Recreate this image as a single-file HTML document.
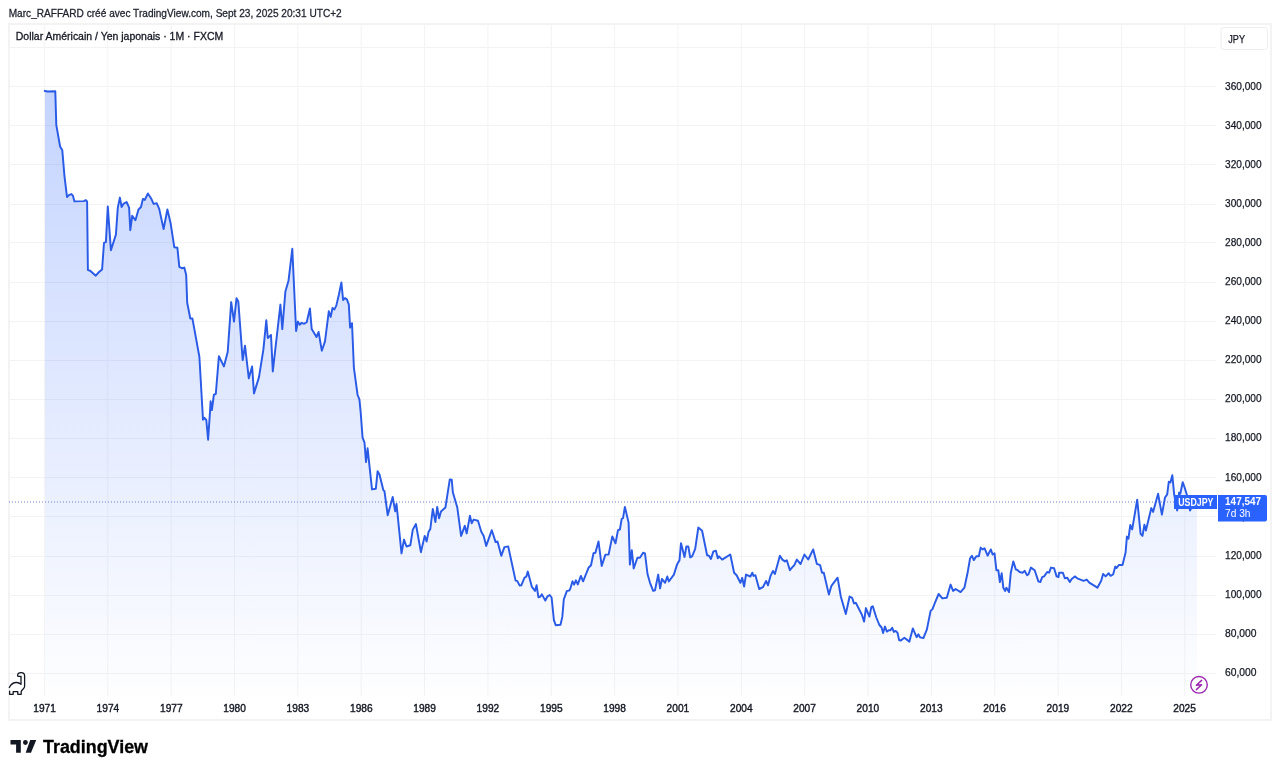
<!DOCTYPE html>
<html><head><meta charset="utf-8"><style>
html,body{margin:0;padding:0;background:#fff;width:1280px;height:773px;overflow:hidden}
svg{display:block;will-change:transform}
</style></head><body>
<svg width="1280" height="773" viewBox="0 0 1280 773">
<defs>
<linearGradient id="ag" gradientUnits="userSpaceOnUse" x1="0" y1="90" x2="0" y2="696">
<stop offset="0" stop-color="#2962ff" stop-opacity="0.275"/>
<stop offset="1" stop-color="#2962ff" stop-opacity="0.005"/>
</linearGradient>
</defs>
<rect width="1280" height="773" fill="#fff"/>
<text x="8.7" y="16.7" font-family="Liberation Sans, sans-serif" font-size="11.4" fill="#1e222d" stroke="#1e222d" stroke-width="0.3" textLength="333" lengthAdjust="spacingAndGlyphs">Marc_RAFFARD créé avec TradingView.com, Sept 23, 2025 20:31 UTC+2</text>
<rect x="9" y="24" width="1262" height="696" fill="#fff" stroke="#f3f3f3" stroke-width="2"/>
<g stroke="#f3f3f3" stroke-width="1"><line x1="9" y1="47.5" x2="1216" y2="47.5"/><line x1="9" y1="86.5" x2="1216" y2="86.5"/><line x1="9" y1="125.5" x2="1216" y2="125.5"/><line x1="9" y1="164.5" x2="1216" y2="164.5"/><line x1="9" y1="204.5" x2="1216" y2="204.5"/><line x1="9" y1="242.5" x2="1216" y2="242.5"/><line x1="9" y1="282.5" x2="1216" y2="282.5"/><line x1="9" y1="321.5" x2="1216" y2="321.5"/><line x1="9" y1="360.5" x2="1216" y2="360.5"/><line x1="9" y1="399.5" x2="1216" y2="399.5"/><line x1="9" y1="438.5" x2="1216" y2="438.5"/><line x1="9" y1="477.5" x2="1216" y2="477.5"/><line x1="9" y1="516.5" x2="1216" y2="516.5"/><line x1="9" y1="556.5" x2="1216" y2="556.5"/><line x1="9" y1="595.5" x2="1216" y2="595.5"/><line x1="9" y1="634.5" x2="1216" y2="634.5"/><line x1="9" y1="673.5" x2="1216" y2="673.5"/><line x1="44.4" y1="24" x2="44.4" y2="696"/><line x1="107.76" y1="24" x2="107.76" y2="696"/><line x1="171.12" y1="24" x2="171.12" y2="696"/><line x1="234.48" y1="24" x2="234.48" y2="696"/><line x1="297.84" y1="24" x2="297.84" y2="696"/><line x1="361.2" y1="24" x2="361.2" y2="696"/><line x1="424.56" y1="24" x2="424.56" y2="696"/><line x1="487.92" y1="24" x2="487.92" y2="696"/><line x1="551.28" y1="24" x2="551.28" y2="696"/><line x1="614.64" y1="24" x2="614.64" y2="696"/><line x1="678.0" y1="24" x2="678.0" y2="696"/><line x1="741.36" y1="24" x2="741.36" y2="696"/><line x1="804.72" y1="24" x2="804.72" y2="696"/><line x1="868.08" y1="24" x2="868.08" y2="696"/><line x1="931.44" y1="24" x2="931.44" y2="696"/><line x1="994.8" y1="24" x2="994.8" y2="696"/><line x1="1058.16" y1="24" x2="1058.16" y2="696"/><line x1="1121.52" y1="24" x2="1121.52" y2="696"/><line x1="1184.88" y1="24" x2="1184.88" y2="696"/></g>
<path d="M45 90.8 L47.5 91.5 L55.3 91.3 L56.3 125.2 L60.1 146.5 L62.3 150.3 L64.5 176.3 L67 197 L68.9 195.1 L71.4 194.1 L72.9 195.7 L74.5 201.4 L83.9 201.1 L85.8 200.1 L87.1 201.4 L87.9 270.1 L90.2 270.7 L95.8 275.7 L99 272 L102.1 269.4 L104 242.8 L105.9 242.1 L107.8 206.4 L110.9 250.3 L115.9 234.6 L117.8 207.6 L119.9 197.6 L121.6 207 L123.4 203.9 L126.6 202 L129.1 207.6 L130.3 230.2 L132.2 215.8 L135.4 220.2 L138.5 209.5 L141 207 L142.9 198.9 L144.8 199.9 L147.9 193.5 L151 198.2 L153.6 203.9 L156.7 203.2 L159.2 208.9 L163.6 229 L167.4 209.5 L170.5 222.7 L174.3 247.2 L177.4 247.8 L179.3 266.9 L181.8 268.2 L184.3 267.6 L186.2 275.1 L187.2 302.7 L190.3 318.5 L192.4 318.4 L199.4 357 L203 419.8 L204.4 417.8 L206.3 420 L208.1 439.7 L210 411.9 L210.6 401.3 L211.9 410 L213.9 394.6 L215.8 394 L218.9 356.3 L223.9 366.4 L227.7 352 L231.2 302.1 L234 321.6 L236.5 298.3 L238.3 301.5 L242.7 360.1 L245 345.7 L248.8 378.3 L252.1 366.4 L254 393.4 L259 377.1 L263.4 349.4 L266.3 320.3 L267.8 338 L271 335 L272.8 371.4 L280.4 304.6 L282.3 329.1 L285.4 291.4 L288.5 280.8 L292.3 248.8 L296.1 331 L297.9 321.6 L299.8 324.7 L301.7 322.8 L304.2 323.8 L306.7 322.2 L309.9 308.4 L311.7 329.1 L316.5 337 L318.6 332 L321.8 350.7 L325 341.4 L328.8 311.3 L330.7 316.9 L332.5 308 L334.4 309.4 L336.3 305.6 L338.8 295 L341.4 282.5 L343.1 300 L345 298.1 L346.9 299.4 L348.8 304.4 L350.1 327.6 L352 323.2 L353.9 367.8 L357.6 395 L359.4 399.4 L360.7 412.6 L362.6 437.7 L364.5 442.7 L366 462.1 L367.6 448.3 L372 489.4 L375.8 488.8 L377.6 471.3 L379.5 474.4 L383.3 490.1 L384.5 491.3 L387.7 515.2 L392.7 497 L395.2 511.4 L396.5 503.9 L401.5 553.4 L404 539.6 L406.5 546.5 L410.3 545.3 L412.8 529.6 L415.9 524 L420.9 552.2 L424.7 535.9 L426.6 541.5 L428.5 532.1 L430.3 529 L432.8 508.9 L435.4 522.1 L437.2 507 L439.1 518.3 L441 511.4 L445.4 507.6 L449.8 479.4 L451.7 479.7 L452.9 492.6 L457.3 507.6 L461.1 535.9 L464.8 525.8 L466.7 533.4 L469.9 515.8 L471.7 523.3 L473.6 519.6 L478 520.8 L481.2 531.5 L483.7 535.9 L486.2 545.9 L491.8 530.2 L495.6 542.1 L497.5 541.5 L501.3 555.8 L504.4 547.1 L508.2 546.4 L512 564 L515.6 580.6 L517.2 580.9 L519.7 585.6 L521.3 585.3 L524.4 577.8 L526.3 576.6 L527.8 571.6 L531.9 586.9 L535 590.9 L536.6 585.3 L538.4 597.2 L540 596.9 L541.9 594.4 L545.3 600.6 L547.5 596.3 L549.7 595 L551.6 597.5 L553.9 620.2 L555.8 625.3 L560.5 624.8 L562.3 616.9 L563.8 599.4 L566.9 590.9 L569.1 590.6 L570.3 588.8 L572.5 581.3 L574.1 584.7 L575.9 580.3 L577.8 584.4 L580.9 575.9 L583.1 581.3 L588.5 567.8 L591 565.2 L593.5 553.3 L595.4 552.7 L598.5 541.4 L601.7 565.9 L605.4 554.6 L608.6 554.6 L612.3 536.4 L615.5 543.3 L618 530.1 L619.9 529.5 L621.7 518.8 L623 518.2 L624.9 506.9 L628.6 522.6 L629.9 564.6 L631.8 550.2 L633.7 568.4 L637.4 557.7 L639.9 557.7 L643.1 552.7 L645 553.5 L647.5 574 L650 582.8 L653.2 590.9 L655 590.3 L658.2 574.6 L660.1 588.4 L661.9 579 L665.1 582.8 L667.3 576.5 L668.8 581.5 L673.9 574.6 L677 564.6 L679.5 560.2 L681 543.2 L684.5 557.1 L686.4 546.4 L688.3 546.4 L690.2 557.4 L692.1 556.4 L695.2 548.9 L698.3 527.6 L702.1 530.7 L707.1 555.2 L709 555.8 L710.9 558.9 L713.4 551.4 L715.9 550.8 L717.8 558.3 L719 556.4 L722.2 559.6 L725.3 557.7 L730.3 554.5 L734.1 572.7 L736.6 575.2 L740.4 582.8 L742.2 577.8 L744.1 586.5 L746 574.6 L750.4 576.5 L752.3 572.7 L753.5 575.9 L755.4 575.2 L759.2 589 L762.9 587.2 L766.1 580.9 L768 585.3 L770.5 575.9 L773 570.9 L774.9 574 L779.9 555.8 L782.4 559.6 L784.9 561.4 L786.8 560.2 L789.9 570.2 L792.4 567.1 L794.3 565.2 L796.8 559.6 L800.6 564 L804.4 554.5 L808.2 559.5 L813.2 549.4 L816.9 563.9 L820.1 565.1 L822 572.7 L823.8 572.7 L828.9 594.6 L831.4 585.8 L837.6 577.7 L840.8 596.5 L845.8 614.1 L849.6 596.5 L852.1 597.8 L854 603.4 L855.8 602.8 L861.9 614.7 L864.1 621.6 L865.9 608.1 L869.4 616.6 L871.3 607.2 L872.8 606.3 L876.3 617.5 L879.4 625 L881.6 627.5 L883.1 633.1 L885 626.6 L886.9 631.6 L888.8 630.3 L890.3 630.3 L892.2 627.8 L893.8 631.9 L895.6 630.9 L897.5 632.8 L899.1 640 L900.6 640.6 L904.4 637.8 L909.4 641.6 L912.8 628.4 L916.6 637.2 L918.4 634.4 L920 637.2 L923.4 638.1 L926.9 629.4 L930.6 610.9 L932.5 609.1 L934.9 602.8 L938.6 594 L942.4 598.4 L946.8 597.8 L950.6 584.6 L953.1 590.9 L955.6 589 L960.6 592.1 L964.4 587.7 L967.5 573.3 L970.1 558.2 L971.9 555.7 L973.8 560.1 L976.3 556.3 L978.8 556.3 L980.7 547.6 L982.6 549.4 L984.5 548.2 L987.6 555.7 L990.8 549.4 L992.6 554.5 L994.5 553.2 L996.4 570.2 L998.3 570.2 L999.9 582.1 L1001.7 573.3 L1003.3 587.7 L1005.2 590.9 L1006.4 587.7 L1009 592.1 L1010.8 572.7 L1013.3 561.4 L1015.9 569.5 L1017.7 570.2 L1019.6 572 L1022.8 572.7 L1024.6 570.8 L1027.1 575.2 L1028.4 574.5 L1030.9 567.6 L1034.7 570.2 L1038.4 581.4 L1040.3 582.1 L1042.2 577.1 L1044.1 576.4 L1047.2 572 L1049.1 572.7 L1051 567.6 L1054.1 568.3 L1056.6 576.4 L1058.5 577.1 L1059.1 572.7 L1062.9 572.7 L1064.8 578.3 L1067.3 577.7 L1069.8 582.1 L1071.7 578.9 L1074.8 576.4 L1077.3 578.3 L1083.6 580.8 L1086.7 579.6 L1089.3 582.7 L1097.4 587.7 L1101.2 580.8 L1103.1 573.9 L1105.6 576.4 L1108.7 573.3 L1110.6 575.8 L1113.1 574.5 L1115.3 566.6 L1116.6 568 L1118.8 565 L1122.5 565 L1125.6 552.5 L1126.9 536.6 L1128.4 538.8 L1130.3 525 L1132.2 529.4 L1137.2 499.7 L1140.6 533.8 L1142.5 535.9 L1144.4 524.7 L1145.9 530.6 L1151.3 508.1 L1153.1 511.9 L1158.1 493.8 L1161.9 514.7 L1165 497.5 L1167.2 494.4 L1168.8 481.7 L1170.4 482.5 L1172.3 475.2 L1174.2 494.5 L1177.2 510.5 L1179.1 492.6 L1180.3 493.8 L1182.7 482.2 L1184.6 487.5 L1186.8 494.5 L1190 510.5 L1193 505 L1197 502.4 L1197 696 L45 696 Z" fill="url(#ag)"/>
<line x1="9" y1="502" x2="1216" y2="502" stroke="#4d62b8" stroke-width="1" stroke-dasharray="1 2" opacity="0.8"/>
<path d="M44 90.8 L47.5 91.5 L55.3 91.3 L56.3 125.2 L60.1 146.5 L62.3 150.3 L64.5 176.3 L67 197 L68.9 195.1 L71.4 194.1 L72.9 195.7 L74.5 201.4 L83.9 201.1 L85.8 200.1 L87.1 201.4 L87.9 270.1 L90.2 270.7 L95.8 275.7 L99 272 L102.1 269.4 L104 242.8 L105.9 242.1 L107.8 206.4 L110.9 250.3 L115.9 234.6 L117.8 207.6 L119.9 197.6 L121.6 207 L123.4 203.9 L126.6 202 L129.1 207.6 L130.3 230.2 L132.2 215.8 L135.4 220.2 L138.5 209.5 L141 207 L142.9 198.9 L144.8 199.9 L147.9 193.5 L151 198.2 L153.6 203.9 L156.7 203.2 L159.2 208.9 L163.6 229 L167.4 209.5 L170.5 222.7 L174.3 247.2 L177.4 247.8 L179.3 266.9 L181.8 268.2 L184.3 267.6 L186.2 275.1 L187.2 302.7 L190.3 318.5 L192.4 318.4 L199.4 357 L203 419.8 L204.4 417.8 L206.3 420 L208.1 439.7 L210 411.9 L210.6 401.3 L211.9 410 L213.9 394.6 L215.8 394 L218.9 356.3 L223.9 366.4 L227.7 352 L231.2 302.1 L234 321.6 L236.5 298.3 L238.3 301.5 L242.7 360.1 L245 345.7 L248.8 378.3 L252.1 366.4 L254 393.4 L259 377.1 L263.4 349.4 L266.3 320.3 L267.8 338 L271 335 L272.8 371.4 L280.4 304.6 L282.3 329.1 L285.4 291.4 L288.5 280.8 L292.3 248.8 L296.1 331 L297.9 321.6 L299.8 324.7 L301.7 322.8 L304.2 323.8 L306.7 322.2 L309.9 308.4 L311.7 329.1 L316.5 337 L318.6 332 L321.8 350.7 L325 341.4 L328.8 311.3 L330.7 316.9 L332.5 308 L334.4 309.4 L336.3 305.6 L338.8 295 L341.4 282.5 L343.1 300 L345 298.1 L346.9 299.4 L348.8 304.4 L350.1 327.6 L352 323.2 L353.9 367.8 L357.6 395 L359.4 399.4 L360.7 412.6 L362.6 437.7 L364.5 442.7 L366 462.1 L367.6 448.3 L372 489.4 L375.8 488.8 L377.6 471.3 L379.5 474.4 L383.3 490.1 L384.5 491.3 L387.7 515.2 L392.7 497 L395.2 511.4 L396.5 503.9 L401.5 553.4 L404 539.6 L406.5 546.5 L410.3 545.3 L412.8 529.6 L415.9 524 L420.9 552.2 L424.7 535.9 L426.6 541.5 L428.5 532.1 L430.3 529 L432.8 508.9 L435.4 522.1 L437.2 507 L439.1 518.3 L441 511.4 L445.4 507.6 L449.8 479.4 L451.7 479.7 L452.9 492.6 L457.3 507.6 L461.1 535.9 L464.8 525.8 L466.7 533.4 L469.9 515.8 L471.7 523.3 L473.6 519.6 L478 520.8 L481.2 531.5 L483.7 535.9 L486.2 545.9 L491.8 530.2 L495.6 542.1 L497.5 541.5 L501.3 555.8 L504.4 547.1 L508.2 546.4 L512 564 L515.6 580.6 L517.2 580.9 L519.7 585.6 L521.3 585.3 L524.4 577.8 L526.3 576.6 L527.8 571.6 L531.9 586.9 L535 590.9 L536.6 585.3 L538.4 597.2 L540 596.9 L541.9 594.4 L545.3 600.6 L547.5 596.3 L549.7 595 L551.6 597.5 L553.9 620.2 L555.8 625.3 L560.5 624.8 L562.3 616.9 L563.8 599.4 L566.9 590.9 L569.1 590.6 L570.3 588.8 L572.5 581.3 L574.1 584.7 L575.9 580.3 L577.8 584.4 L580.9 575.9 L583.1 581.3 L588.5 567.8 L591 565.2 L593.5 553.3 L595.4 552.7 L598.5 541.4 L601.7 565.9 L605.4 554.6 L608.6 554.6 L612.3 536.4 L615.5 543.3 L618 530.1 L619.9 529.5 L621.7 518.8 L623 518.2 L624.9 506.9 L628.6 522.6 L629.9 564.6 L631.8 550.2 L633.7 568.4 L637.4 557.7 L639.9 557.7 L643.1 552.7 L645 553.5 L647.5 574 L650 582.8 L653.2 590.9 L655 590.3 L658.2 574.6 L660.1 588.4 L661.9 579 L665.1 582.8 L667.3 576.5 L668.8 581.5 L673.9 574.6 L677 564.6 L679.5 560.2 L681 543.2 L684.5 557.1 L686.4 546.4 L688.3 546.4 L690.2 557.4 L692.1 556.4 L695.2 548.9 L698.3 527.6 L702.1 530.7 L707.1 555.2 L709 555.8 L710.9 558.9 L713.4 551.4 L715.9 550.8 L717.8 558.3 L719 556.4 L722.2 559.6 L725.3 557.7 L730.3 554.5 L734.1 572.7 L736.6 575.2 L740.4 582.8 L742.2 577.8 L744.1 586.5 L746 574.6 L750.4 576.5 L752.3 572.7 L753.5 575.9 L755.4 575.2 L759.2 589 L762.9 587.2 L766.1 580.9 L768 585.3 L770.5 575.9 L773 570.9 L774.9 574 L779.9 555.8 L782.4 559.6 L784.9 561.4 L786.8 560.2 L789.9 570.2 L792.4 567.1 L794.3 565.2 L796.8 559.6 L800.6 564 L804.4 554.5 L808.2 559.5 L813.2 549.4 L816.9 563.9 L820.1 565.1 L822 572.7 L823.8 572.7 L828.9 594.6 L831.4 585.8 L837.6 577.7 L840.8 596.5 L845.8 614.1 L849.6 596.5 L852.1 597.8 L854 603.4 L855.8 602.8 L861.9 614.7 L864.1 621.6 L865.9 608.1 L869.4 616.6 L871.3 607.2 L872.8 606.3 L876.3 617.5 L879.4 625 L881.6 627.5 L883.1 633.1 L885 626.6 L886.9 631.6 L888.8 630.3 L890.3 630.3 L892.2 627.8 L893.8 631.9 L895.6 630.9 L897.5 632.8 L899.1 640 L900.6 640.6 L904.4 637.8 L909.4 641.6 L912.8 628.4 L916.6 637.2 L918.4 634.4 L920 637.2 L923.4 638.1 L926.9 629.4 L930.6 610.9 L932.5 609.1 L934.9 602.8 L938.6 594 L942.4 598.4 L946.8 597.8 L950.6 584.6 L953.1 590.9 L955.6 589 L960.6 592.1 L964.4 587.7 L967.5 573.3 L970.1 558.2 L971.9 555.7 L973.8 560.1 L976.3 556.3 L978.8 556.3 L980.7 547.6 L982.6 549.4 L984.5 548.2 L987.6 555.7 L990.8 549.4 L992.6 554.5 L994.5 553.2 L996.4 570.2 L998.3 570.2 L999.9 582.1 L1001.7 573.3 L1003.3 587.7 L1005.2 590.9 L1006.4 587.7 L1009 592.1 L1010.8 572.7 L1013.3 561.4 L1015.9 569.5 L1017.7 570.2 L1019.6 572 L1022.8 572.7 L1024.6 570.8 L1027.1 575.2 L1028.4 574.5 L1030.9 567.6 L1034.7 570.2 L1038.4 581.4 L1040.3 582.1 L1042.2 577.1 L1044.1 576.4 L1047.2 572 L1049.1 572.7 L1051 567.6 L1054.1 568.3 L1056.6 576.4 L1058.5 577.1 L1059.1 572.7 L1062.9 572.7 L1064.8 578.3 L1067.3 577.7 L1069.8 582.1 L1071.7 578.9 L1074.8 576.4 L1077.3 578.3 L1083.6 580.8 L1086.7 579.6 L1089.3 582.7 L1097.4 587.7 L1101.2 580.8 L1103.1 573.9 L1105.6 576.4 L1108.7 573.3 L1110.6 575.8 L1113.1 574.5 L1115.3 566.6 L1116.6 568 L1118.8 565 L1122.5 565 L1125.6 552.5 L1126.9 536.6 L1128.4 538.8 L1130.3 525 L1132.2 529.4 L1137.2 499.7 L1140.6 533.8 L1142.5 535.9 L1144.4 524.7 L1145.9 530.6 L1151.3 508.1 L1153.1 511.9 L1158.1 493.8 L1161.9 514.7 L1165 497.5 L1167.2 494.4 L1168.8 481.7 L1170.4 482.5 L1172.3 475.2 L1174.2 494.5 L1177.2 510.5 L1179.1 492.6 L1180.3 493.8 L1182.7 482.2 L1184.6 487.5 L1186.8 494.5 L1190 510.5 L1193 505 L1197 502.4" fill="none" stroke="#2a5be6" stroke-width="1.95" stroke-linejoin="round" stroke-linecap="butt"/>
<g font-family="Liberation Sans, sans-serif" font-size="11.2" fill="#131722" stroke="#131722" stroke-width="0.25"><text x="1225" y="89.8" textLength="36.6" lengthAdjust="spacingAndGlyphs">360,000</text><text x="1225" y="128.8" textLength="36.6" lengthAdjust="spacingAndGlyphs">340,000</text><text x="1225" y="167.9" textLength="36.6" lengthAdjust="spacingAndGlyphs">320,000</text><text x="1225" y="207.0" textLength="36.6" lengthAdjust="spacingAndGlyphs">300,000</text><text x="1225" y="246.1" textLength="36.6" lengthAdjust="spacingAndGlyphs">280,000</text><text x="1225" y="285.1" textLength="36.6" lengthAdjust="spacingAndGlyphs">260,000</text><text x="1225" y="324.2" textLength="36.6" lengthAdjust="spacingAndGlyphs">240,000</text><text x="1225" y="363.3" textLength="36.6" lengthAdjust="spacingAndGlyphs">220,000</text><text x="1225" y="402.3" textLength="36.6" lengthAdjust="spacingAndGlyphs">200,000</text><text x="1225" y="441.4" textLength="36.6" lengthAdjust="spacingAndGlyphs">180,000</text><text x="1225" y="480.5" textLength="36.6" lengthAdjust="spacingAndGlyphs">160,000</text><text x="1225" y="519.5" textLength="36.6" lengthAdjust="spacingAndGlyphs">140,000</text><text x="1225" y="558.6" textLength="36.6" lengthAdjust="spacingAndGlyphs">120,000</text><text x="1225" y="597.7" textLength="36.6" lengthAdjust="spacingAndGlyphs">100,000</text><text x="1225" y="636.8" textLength="31.6" lengthAdjust="spacingAndGlyphs">80,000</text><text x="1225" y="675.8" textLength="31.6" lengthAdjust="spacingAndGlyphs">60,000</text></g>
<g font-family="Liberation Sans, sans-serif" font-size="11" fill="#131722" stroke="#131722" stroke-width="0.4"><text x="44.6" y="711.7" text-anchor="middle" textLength="22.6" lengthAdjust="spacingAndGlyphs">1971</text><text x="107.9" y="711.7" text-anchor="middle" textLength="22.6" lengthAdjust="spacingAndGlyphs">1974</text><text x="171.3" y="711.7" text-anchor="middle" textLength="22.6" lengthAdjust="spacingAndGlyphs">1977</text><text x="234.6" y="711.7" text-anchor="middle" textLength="22.6" lengthAdjust="spacingAndGlyphs">1980</text><text x="297.9" y="711.7" text-anchor="middle" textLength="22.6" lengthAdjust="spacingAndGlyphs">1983</text><text x="361.3" y="711.7" text-anchor="middle" textLength="22.6" lengthAdjust="spacingAndGlyphs">1986</text><text x="424.6" y="711.7" text-anchor="middle" textLength="22.6" lengthAdjust="spacingAndGlyphs">1989</text><text x="487.9" y="711.7" text-anchor="middle" textLength="22.6" lengthAdjust="spacingAndGlyphs">1992</text><text x="551.3" y="711.7" text-anchor="middle" textLength="22.6" lengthAdjust="spacingAndGlyphs">1995</text><text x="614.6" y="711.7" text-anchor="middle" textLength="22.6" lengthAdjust="spacingAndGlyphs">1998</text><text x="677.9" y="711.7" text-anchor="middle" textLength="22.6" lengthAdjust="spacingAndGlyphs">2001</text><text x="741.3" y="711.7" text-anchor="middle" textLength="22.6" lengthAdjust="spacingAndGlyphs">2004</text><text x="804.6" y="711.7" text-anchor="middle" textLength="22.6" lengthAdjust="spacingAndGlyphs">2007</text><text x="867.9" y="711.7" text-anchor="middle" textLength="22.6" lengthAdjust="spacingAndGlyphs">2010</text><text x="931.3" y="711.7" text-anchor="middle" textLength="22.6" lengthAdjust="spacingAndGlyphs">2013</text><text x="994.6" y="711.7" text-anchor="middle" textLength="22.6" lengthAdjust="spacingAndGlyphs">2016</text><text x="1057.9" y="711.7" text-anchor="middle" textLength="22.6" lengthAdjust="spacingAndGlyphs">2019</text><text x="1121.3" y="711.7" text-anchor="middle" textLength="22.6" lengthAdjust="spacingAndGlyphs">2022</text><text x="1184.6" y="711.7" text-anchor="middle" textLength="22.6" lengthAdjust="spacingAndGlyphs">2025</text></g>
<rect x="1174" y="495" width="43" height="14" fill="#2962ff"/>
<text x="1178.2" y="505.6" font-family="Liberation Sans, sans-serif" font-size="10.8" font-weight="700" fill="#fff" textLength="35.2" lengthAdjust="spacingAndGlyphs">USDJPY</text>
<path d="M1218 495 H1265 Q1267 495 1267 497 V519.6 Q1267 521.6 1265 521.6 H1218 Z" fill="#2962ff"/>
<text x="1225.1" y="504.8" font-family="Liberation Sans, sans-serif" font-size="11" font-weight="700" fill="#fff" textLength="35.9" lengthAdjust="spacingAndGlyphs">147,547</text>
<text x="1225.1" y="517" font-family="Liberation Sans, sans-serif" font-size="11" fill="#fff" textLength="25.4" lengthAdjust="spacingAndGlyphs">7d 3h</text>
<text x="15.8" y="40.1" font-family="Liberation Sans, sans-serif" font-size="11" fill="#131722" stroke="#131722" stroke-width="0.3" textLength="207.4" lengthAdjust="spacingAndGlyphs">Dollar Américain / Yen japonais · 1M · FXCM</text>
<rect x="1221" y="27.5" width="46.5" height="22" rx="3" fill="#fff" stroke="#ededed" stroke-width="1"/>
<text x="1228.3" y="42.7" font-family="Liberation Sans, sans-serif" font-size="11" fill="#131722" stroke="#131722" stroke-width="0.25" textLength="16.7" lengthAdjust="spacingAndGlyphs">JPY</text>
<g transform="translate(4 668)" fill="none" stroke="#131722" stroke-width="1.3" stroke-linejoin="round" stroke-linecap="round">
<path d="M5.3 19.5 C7 16.2 10 14.4 12.6 14.5 C14.6 14.6 16 15.4 17 16.4 L17 8.4 L14.6 8.4 Q13.6 8.4 13.6 7.4 C13.6 5.6 15.4 4.6 17.2 4.6 C19.4 4.6 20.6 6 20.6 8 L20.6 18.6 C20.6 20.6 17.4 21.6 17.2 23.6 L17.2 26.3 L13.8 26.3 L13.8 23.6 L9.2 23.6 L9.2 26.3 L5.6 26.3 L5.6 23.2"/>
</g>
<circle cx="1199" cy="684.8" r="8.3" fill="none" stroke="#9c27b0" stroke-width="1.4"/>
<path d="M1201.6 680.4 L1196.4 685.3 L1201.6 684.8 L1196.4 689.6" fill="none" stroke="#9c27b0" stroke-width="1.5" stroke-linejoin="round" stroke-linecap="round"/>
<g fill="#131722">
<path d="M10.5 740.1 H20.8 V752.7 H16.1 V744.4 H10.5 Z"/>
<circle cx="25.4" cy="742.5" r="2.4"/>
<path d="M30.2 740.1 H36.2 L31 752.7 H25.7 Z"/>
</g>
<text x="43" y="752.9" font-family="Liberation Sans, sans-serif" font-size="18" font-weight="700" fill="#000" stroke="#000" stroke-width="0.3" textLength="105" lengthAdjust="spacingAndGlyphs">TradingView</text>
</svg>
</body></html>
